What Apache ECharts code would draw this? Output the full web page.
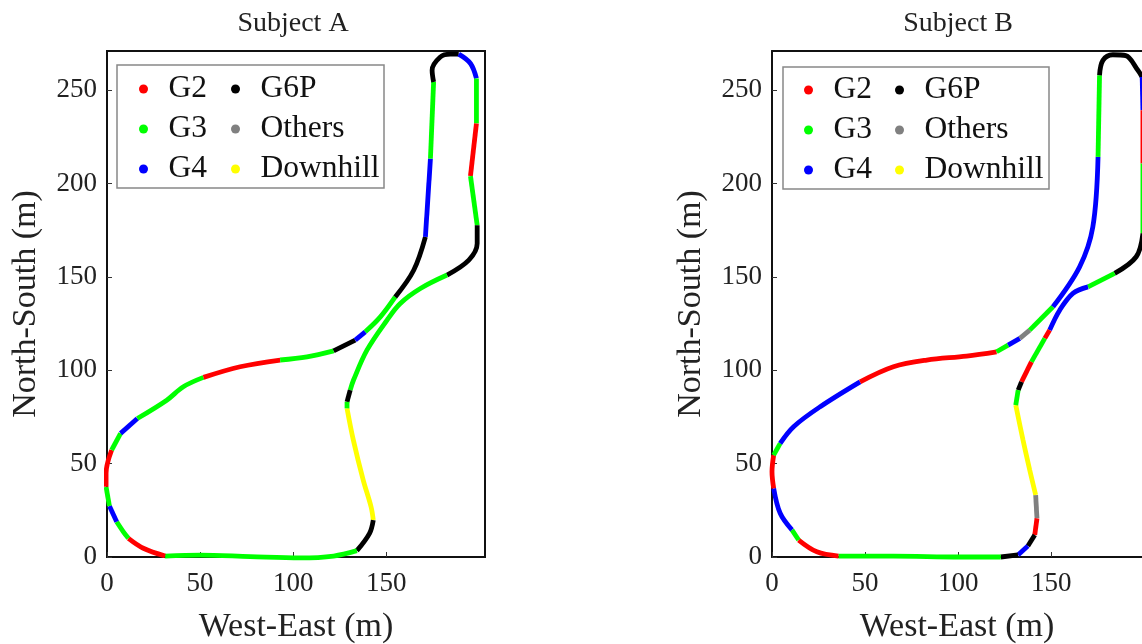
<!DOCTYPE html>
<html><head><meta charset="utf-8">
<script src="https://cdn.jsdelivr.net/npm/echarts@6/dist/echarts.min.js"></script>
<style>html,body{margin:0;padding:0;background:#fff;overflow:hidden}#c{width:1142px;height:644px}</style>
</head><body><div id="c"></div>
<script>
const categories = ['G2', 'G3', 'G4', 'G6P', 'Others', 'Downhill'];
const xTicks = [0, 50, 100, 150];
const yTicks = [0, 50, 100, 150, 200, 250];
const titles = ['Subject A', 'Subject B'];

// Subject A track waypoints (m); gear = class of segment from point i to i+1
const trackA_x = [128.9,132.3,137.6,141.8,143.0,141.0,134.2,121.7,103.8,76.9,50.0,31.2,19.5,11.5,8.8,5.2,1.3,-0.5,-0.5,2.5,7.3,16.3,32.1,41.0,51.8,71.5,93.0,107.4,121.7,133.3,138.7,146.8,154.8,164.7,171.0,173.7,175.4,174.6,179.0,184.4,188.9,195.2,198.4,198.4,195.2,198.8,198.8,194.3,182.6,168.3,157.5,150.4,139.6,132.4,130.6,128.9,128.9];
const trackA_y = [79.6,62.6,41.2,26.9,19.8,12.7,3.4,0.5,-0.5,0.2,1.0,0.5,4.7,10.0,13.5,18.9,27.3,37.6,44.8,57.3,66.2,74.2,84.0,91.2,96.2,101.9,105.5,107.2,110.4,116.2,120.6,128.6,139.3,153.6,171.5,213.4,254.4,260.7,267.8,269.3,269.3,264.3,256.3,232.2,204.0,177.7,167.9,159.0,151.0,143.8,135.8,126.9,110.8,94.8,89.4,83.1,79.6];
const trackA_gear = ['Downhill','Downhill','Downhill','Downhill','G6P','G6P','G3','G3','G3','G3','G3','G2','G2','G3','G3','G4','G3','G2','G2','G3','G4','G3','G3','G3','G2','G2','G3','G3','G6P','G4','G3','G3','G6P','G6P','G4','G3','G6P','G6P','G6P','G6P','G4','G4','G3','G2','G3','G6P','G6P','G6P','G3','G3','G3','G3','G3','G3','G6P','G3'];

// Subject B track waypoints (m)
const trackB_x = [130.9,134.8,138.4,141.6,142.3,141.1,137.4,132.1,122.9,100.9,65.2,35.7,24.1,14.3,10.7,4.4,0.9,0.0,0.9,4.4,11.6,25.9,47.3,65.2,83.1,104.5,120.6,126.8,133.1,138.4,150.9,165.2,172.3,175.1,175.9,177.7,183.0,190.0,196.5,198.8,199.2,199.2,199.2,195.6,184.0,169.7,161.6,154.5,149.1,146.5,139.3,134.0,132.2,130.9];
const trackB_y = [81.4,62.6,46.6,33.2,20.7,11.8,5.9,1.1,0.0,0.0,0.5,0.5,2.8,9.1,14.5,23.4,36.8,45.7,54.6,60.9,69.8,80.5,93.8,101.9,105.5,107.6,109.9,113.5,117.1,121.5,134.0,155.4,176.8,214.3,258.0,266.0,269.0,268.5,260.7,257.1,239.3,210.8,173.3,160.8,151.9,144.7,141.2,132.2,121.5,117.1,104.5,93.8,89.4,81.4];
const trackB_gear = ['Downhill','Downhill','Downhill','Others','G2','G6P','G4','G6P','G3','G3','G3','G2','G2','G3','G4','G4','G2','G2','G3','G4','G4','G4','G2','G2','G2','G2','G3','G4','Others','G3','G4','G4','G4','G3','G6P','G6P','G6P','G6P','G6P','G4','G2','G3','G6P','G6P','G3','G4','G4','G4','G2','G3','G2','G6P','G3'];

const colorOf = {G2:'#ff0000', G3:'#00ff00', G4:'#0000ff', G6P:'#000000', Others:'#808080', Downhill:'#ffff00'};
const FONT = 'Liberation Serif';

// Both panels share the same metres-per-pixel scale; panel B is cut by the page edge
const X_MAX = 203, Y_MAX = 271;
const PANEL_W = 378, PANEL_H = 506;
const B_LEFT = 772, PAGE_W = 1142;
const B_W = PAGE_W - B_LEFT;
const B_XMAX = X_MAX * B_W / PANEL_W;

function buildSeries(xs, ys, gears, idx) {
  const out = [];
  let i = 0;
  while (i < gears.length) {
    let j = i;
    while (j + 1 < gears.length && gears[j + 1] === gears[i]) j++;
    const data = [];
    for (let k = i; k <= j + 1; k++) data.push([xs[k], ys[k]]);
    const c = colorOf[gears[i]];
    out.push({type:'line', name:gears[i], xAxisIndex:idx, yAxisIndex:idx, data:data,
      smooth:0.35, showSymbol:false, symbol:'circle', clip:false, silent:true,
      lineStyle:{width:4.8, color:c}, itemStyle:{color:c}, z:3});
    i = j + 1;
  }
  return out;
}

function dummySeries() {
  return categories.map(n => ({type:'line', name:n, xAxisIndex:0, yAxisIndex:0, data:[],
    itemStyle:{color:colorOf[n]}, lineStyle:{color:colorOf[n]}, showSymbol:false}));
}

const frameLine = {show:true, lineStyle:{color:'#111', width:2}};

function xAxisCfg(i, max, line) {
  return {type:'value', gridIndex:i, min:0, max:max,
    name:'West-East (m)', nameLocation:'middle', nameGap:53,
    nameTextStyle:{fontFamily:FONT, fontSize:34, color:'#222'},
    axisLine: line ? frameLine : {show:false}, splitLine:{show:false},
    axisTick:{show:true, inside:true, length:5, lineStyle:{color:'#333'}, customValues:xTicks},
    axisLabel:{fontFamily:FONT, fontSize:27, color:'#222', margin:13, customValues:xTicks}};
}
function yAxisCfg(i, line) {
  return {type:'value', gridIndex:i, min:0, max:Y_MAX,
    name:'North-South (m)', nameLocation:'middle', nameGap:64,
    nameTextStyle:{fontFamily:FONT, fontSize:34, color:'#222'},
    axisLine: line ? frameLine : {show:false}, splitLine:{show:false},
    axisTick:{show:true, inside:true, length:5, lineStyle:{color:'#333'}, customValues:yTicks},
    axisLabel:{fontFamily:FONT, fontSize:27, color:'#222', margin:10, customValues:yTicks}};
}

function legendCfg(names, left, top) {
  return {data:names, orient:'vertical', left:left, top:top, icon:'circle',
    itemWidth:40, itemHeight:9, itemGap:0, z:6, selectedMode:false,
    textStyle:{fontFamily:FONT, fontSize:31.5, color:'#111', lineHeight:40}};
}

const option = {
  animation:false,
  backgroundColor:'#fff',
  grid: [
    {left:107, top:51, width:PANEL_W, height:PANEL_H, outerBoundsMode:'none', containLabel:false,
     show:true, borderColor:'#111', borderWidth:2, backgroundColor:'transparent'},
    {left:B_LEFT, top:51, width:B_W, height:PANEL_H, outerBoundsMode:'none', containLabel:false, show:false}
  ],
  xAxis:[
    xAxisCfg(0, X_MAX, false),
    xAxisCfg(1, B_XMAX, true),
    {type:'value', gridIndex:1, position:'top', min:0, max:B_XMAX, axisLine:frameLine,
     axisTick:{show:false}, axisLabel:{show:false}, splitLine:{show:false}}
  ],
  yAxis:[yAxisCfg(0, false), yAxisCfg(1, true)],
  legend:[
    legendCfg(categories.slice(0,3), 134, 64),
    legendCfg(categories.slice(3), 226, 64),
    legendCfg(categories.slice(0,3), 799, 65),
    legendCfg(categories.slice(3), 890, 65)
  ],
  graphic:[
    {type:'rect', shape:{x:117, y:65, width:267, height:123}, style:{fill:'#fff', stroke:'#888', lineWidth:1.5}, z:5},
    {type:'rect', shape:{x:783, y:67, width:266, height:122}, style:{fill:'#fff', stroke:'#888', lineWidth:1.5}, z:5},
    {type:'text', x:293, y:24, z:6, style:{text:titles[0], font:'28px "Liberation Serif"', fill:'#222', textAlign:'center', textVerticalAlign:'middle'}},
    {type:'text', x:958, y:24, z:6, style:{text:titles[1], font:'28px "Liberation Serif"', fill:'#222', textAlign:'center', textVerticalAlign:'middle'}}
  ],
  series: dummySeries()
    .concat(buildSeries(trackA_x, trackA_y, trackA_gear, 0))
    .concat(buildSeries(trackB_x, trackB_y, trackB_gear, 1))
};

const chart = echarts.init(document.getElementById('c'), null, {renderer:'canvas'});
chart.setOption(option);
</script>
</body></html>
